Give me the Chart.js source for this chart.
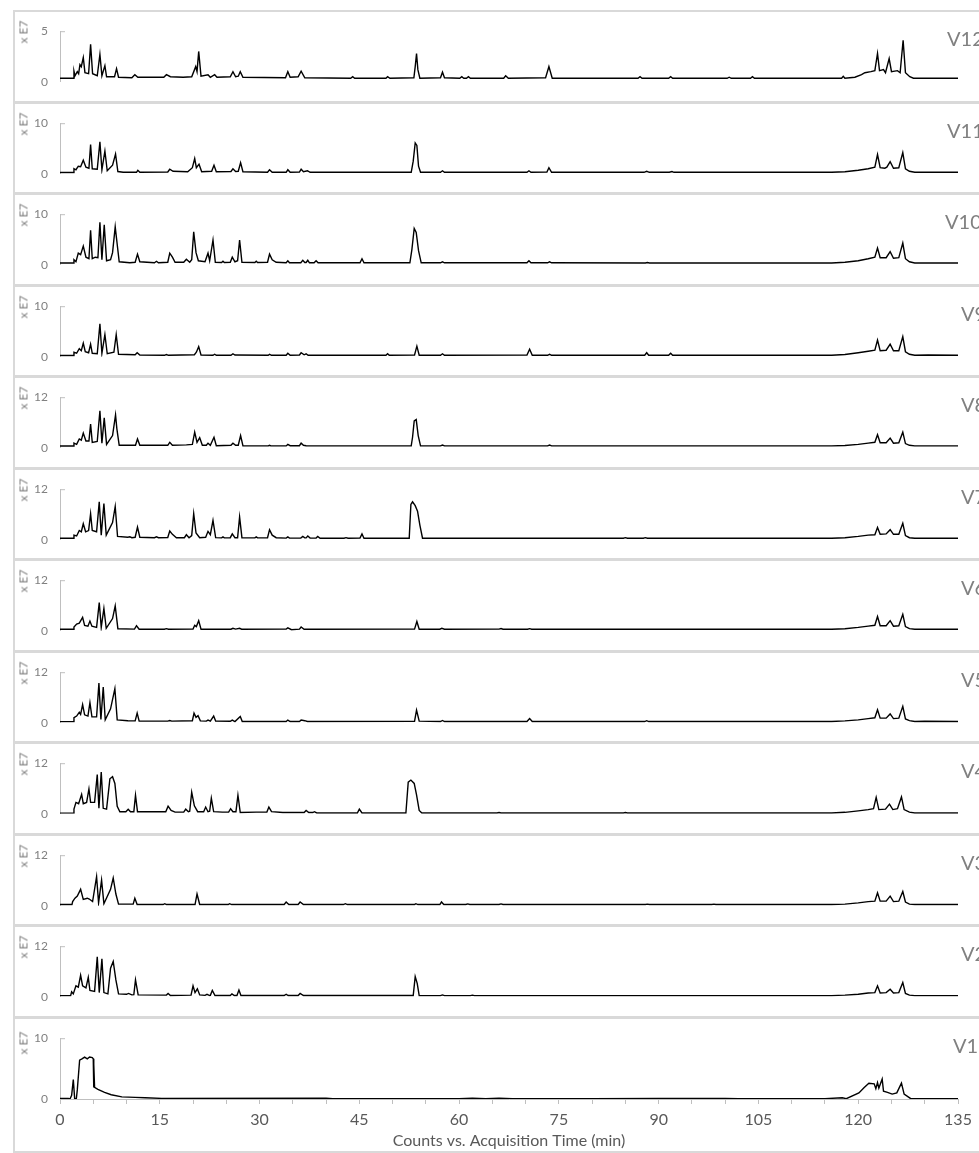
<!DOCTYPE html>
<html>
<head>
<meta charset="utf-8">
<script src="https://cdn.jsdelivr.net/npm/chart.js@4.4.1/dist/chart.umd.min.js"></script>
<style>
    body { margin: 0; background: #fff; width: 979px; height: 1153px; overflow: hidden; position: relative; font-family: Lato, "Open Sans", sans-serif; }
    #frame { position: absolute; left: 13px; top: 10px; width: 990px; height: 1139px; border: 2px solid #d9d9d9; }
    .sep { position: absolute; left: 13px; width: 990px; height: 3px; background: #d9d9d9; }
    canvas { position: absolute; left: 15px; }
    .unit { position: absolute; left: 23px; transform: translate(-50%, -50%) rotate(-90deg); font-size: 12px; color: #808080; white-space: nowrap; }
    .vname { position: absolute; font-size: 20px; color: #808080; transform: translateY(-50%); white-space: nowrap; }
</style>
</head>
<body>
<div id="frame"></div>
<script>
    // [time (min), counts (x E7)]
    const v12 = [[0,0.35],[2.0,0.35],[2.1,1.05],[2.25,0.6],[2.6,1.0],[2.8,0.8],[3.0,1.7],[3.2,1.5],[3.5,2.4],[3.75,0.9],[4.3,0.8],[4.6,3.7],[4.9,0.8],[5.6,0.6],[6.0,2.7],[6.3,0.6],[6.75,1.6],[7.0,0.5],[8.2,0.5],[8.5,1.3],[8.8,0.45],[10.8,0.4],[11.25,0.7],[11.7,0.45],[15.6,0.45],[16.0,0.7],[16.6,0.5],[18.5,0.45],[19.8,0.5],[20.4,1.5],[20.6,1.0],[20.85,3.0],[21.2,0.55],[22.25,0.7],[22.6,0.45],[23.25,0.7],[23.6,0.45],[25.6,0.5],[26.0,1.0],[26.4,0.5],[26.8,0.55],[27.1,1.0],[27.5,0.45],[33.9,0.4],[34.25,1.0],[34.6,0.45],[35.8,0.5],[36.25,1.05],[36.8,0.4],[43.7,0.35],[44,0.5],[44.3,0.35],[49.0,0.35],[49.25,0.5],[49.6,0.35],[53.2,0.4],[53.4,1.5],[53.6,2.8],[53.8,1.2],[54.1,0.35],[57.2,0.4],[57.5,0.95],[57.8,0.4],[60.1,0.35],[60.4,0.5],[60.7,0.35],[61.1,0.35],[61.4,0.5],[61.7,0.35],[66.7,0.35],[67.0,0.6],[67.4,0.35],[73.0,0.4],[73.5,1.5],[74.0,0.35],[86.9,0.35],[87.2,0.5],[87.5,0.35],[91.5,0.35],[91.8,0.5],[92.1,0.35],[100.3,0.35],[100.6,0.45],[100.9,0.35],[103.8,0.35],[104.1,0.5],[104.4,0.35],[117.5,0.35],[117.75,0.55],[118.0,0.35],[119.5,0.45],[120.5,0.7],[121,0.9],[121.9,1.0],[122.5,1.1],[122.9,2.8],[123.2,1.1],[123.8,1.2],[124.1,0.9],[124.65,2.3],[125.0,1.0],[125.9,1.1],[126.3,0.9],[126.75,4.1],[127.1,0.9],[127.75,0.5],[128.3,0.35],[135,0.35]];
    const v11 = [[0,0.27],[2.0,0.27],[2.1,1.0],[2.4,0.8],[2.75,1.5],[3.1,1.4],[3.5,2.7],[3.9,1.3],[4.35,1.1],[4.6,5.8],[4.85,1.0],[5.6,0.9],[6.0,6.3],[6.3,0.8],[6.75,4.5],[7.1,0.6],[7.9,1.7],[8.35,3.9],[8.7,0.45],[9.5,0.3],[11.5,0.3],[11.7,0.7],[12,0.3],[16.2,0.35],[16.5,0.9],[17,0.5],[19.2,0.4],[19.9,1.2],[20.25,3.0],[20.5,1.2],[20.9,1.9],[21.3,0.4],[22.8,0.5],[23.15,1.7],[23.5,0.4],[25.7,0.45],[26.0,1.0],[26.4,0.45],[26.8,0.5],[27.15,2.2],[27.5,0.4],[31.2,0.3],[31.5,0.8],[31.9,0.3],[34.0,0.3],[34.25,0.8],[34.6,0.3],[36.0,0.35],[36.25,0.9],[36.6,0.4],[37.2,0.6],[37.6,0.3],[52.8,0.3],[53.1,2.5],[53.4,6.1],[53.65,5.6],[53.9,1.5],[54.2,0.3],[57.2,0.3],[57.5,0.6],[57.8,0.3],[70.2,0.3],[70.5,0.6],[70.8,0.3],[73.2,0.35],[73.5,1.2],[73.9,0.3],[87.8,0.3],[88.2,0.5],[88.6,0.3],[91.6,0.3],[92,0.45],[92.3,0.3],[116,0.3],[118,0.4],[120,0.7],[121.5,1.0],[122.5,1.3],[122.9,3.8],[123.3,1.2],[124,1.1],[124.3,1.3],[124.8,2.4],[125.3,1.1],[126.1,1.2],[126.7,4.2],[127.1,1.0],[127.7,0.5],[128.5,0.3],[135,0.3]];
    const v10 = [[0,0.35],[2.0,0.35],[2.1,1.0],[2.4,0.6],[2.75,2.3],[3.1,2.0],[3.5,3.7],[3.9,1.5],[4.35,1.2],[4.6,6.8],[4.85,1.2],[5.3,1.5],[5.7,1.4],[6.0,8.4],[6.3,1.0],[6.65,7.9],[7.0,0.8],[7.6,1.0],[7.9,2.4],[8.3,7.5],[8.55,4.6],[8.9,0.6],[10.5,0.4],[11.3,0.5],[11.65,2.1],[12.0,0.6],[14.2,0.4],[14.5,0.7],[14.8,0.4],[16.2,0.5],[16.5,2.3],[16.9,1.5],[17.3,0.5],[18.6,0.5],[19.0,1.1],[19.5,0.5],[19.8,1.0],[20.1,6.5],[20.45,2.4],[20.8,0.8],[21.8,0.6],[22.25,2.3],[22.5,0.8],[23.0,4.9],[23.35,0.5],[24.3,0.45],[24.5,0.7],[24.7,0.45],[25.6,0.5],[25.9,1.5],[26.3,0.6],[26.7,0.8],[27.0,4.9],[27.35,0.5],[29.3,0.45],[29.5,0.7],[29.7,0.45],[31.2,0.5],[31.5,2.1],[31.9,1.0],[32.5,0.5],[34.0,0.4],[34.25,0.8],[34.5,0.4],[36.2,0.4],[36.5,0.9],[36.8,0.45],[37.0,0.45],[37.25,0.9],[37.5,0.4],[38.2,0.4],[38.5,0.8],[38.8,0.4],[45.1,0.4],[45.4,1.2],[45.7,0.4],[52.6,0.4],[52.9,3.0],[53.25,7.2],[53.55,6.4],[53.9,2.8],[54.3,0.4],[57.2,0.4],[57.5,0.6],[57.8,0.4],[70.2,0.4],[70.5,0.8],[70.8,0.4],[73.3,0.4],[73.6,0.6],[73.9,0.4],[88,0.35],[88.3,0.45],[88.6,0.35],[116,0.35],[118,0.5],[120,0.8],[121.5,1.2],[122.5,1.5],[122.9,3.3],[123.3,1.4],[124.2,1.4],[124.8,2.6],[125.3,1.3],[126.1,1.4],[126.7,4.3],[127.1,1.2],[127.7,0.6],[128.5,0.35],[135,0.35]];
    const v9 = [[0,0.27],[2.0,0.27],[2.1,0.9],[2.5,0.7],[2.9,1.6],[3.2,1.2],[3.5,2.7],[3.8,1.0],[4.3,0.8],[4.6,2.5],[4.85,0.7],[5.6,0.6],[6.0,6.5],[6.3,0.7],[6.75,4.4],[7.1,0.6],[8.1,0.9],[8.45,4.4],[8.8,0.5],[11.3,0.4],[11.6,0.8],[12.0,0.35],[15.7,0.3],[16.0,0.45],[16.3,0.3],[20.2,0.4],[20.5,0.9],[20.85,2.0],[21.2,0.35],[23.0,0.3],[23.25,0.5],[23.5,0.3],[25.7,0.3],[26.0,0.6],[26.3,0.35],[31.3,0.3],[31.5,0.5],[31.8,0.3],[34.0,0.3],[34.25,0.7],[34.6,0.3],[36.0,0.35],[36.25,0.8],[36.7,0.4],[37.0,0.6],[37.3,0.3],[49.0,0.3],[49.25,0.6],[49.5,0.3],[53.3,0.35],[53.65,2.1],[54.0,0.3],[57.2,0.3],[57.5,0.6],[57.8,0.3],[70.2,0.35],[70.6,1.5],[71.0,0.3],[73.3,0.3],[73.6,0.5],[73.9,0.3],[87.9,0.3],[88.2,0.8],[88.5,0.3],[91.5,0.3],[91.8,0.7],[92.1,0.3],[116,0.3],[118,0.45],[120,0.8],[121.5,1.1],[122.5,1.3],[122.9,3.3],[123.3,1.2],[124.2,1.3],[124.8,2.5],[125.3,1.2],[126.1,1.2],[126.7,4.0],[127.1,1.0],[127.7,0.5],[128.5,0.3],[130.5,0.35],[135,0.3]];
    const v8 = [[0,0.43],[2.0,0.43],[2.1,1.1],[2.5,0.8],[2.9,2.1],[3.2,1.8],[3.5,3.5],[3.9,1.6],[4.35,1.6],[4.6,5.6],[4.85,1.3],[5.6,1.5],[6.0,8.8],[6.3,1.1],[6.65,7.1],[7.0,0.8],[7.9,2.9],[8.35,7.8],[8.55,4.5],[8.9,0.6],[11.35,0.6],[11.65,2.1],[12.0,0.6],[16.2,0.6],[16.5,1.3],[16.9,0.6],[19.0,0.7],[19.9,0.8],[20.25,3.7],[20.6,1.3],[21.0,2.4],[21.4,0.6],[22.0,0.6],[22.25,1.1],[22.6,0.6],[23.15,2.5],[23.5,0.5],[25.7,0.6],[26.0,1.1],[26.4,0.6],[26.8,0.6],[27.15,2.9],[27.5,0.5],[31.3,0.45],[31.5,0.6],[31.7,0.45],[34.0,0.45],[34.25,0.8],[34.6,0.5],[36.0,0.5],[36.25,1.1],[36.6,0.6],[37.0,0.5],[52.8,0.45],[53.0,2.5],[53.25,6.4],[53.55,6.7],[53.85,2.9],[54.2,0.45],[57.2,0.45],[57.5,0.65],[57.8,0.45],[73.3,0.45],[73.6,0.65],[73.9,0.45],[116,0.45],[118,0.55],[120,0.8],[121.5,1.1],[122.5,1.3],[122.9,3.1],[123.3,1.2],[124.2,1.2],[124.8,2.3],[125.3,1.1],[126.1,1.2],[126.7,3.7],[127.1,1.0],[127.7,0.6],[128.5,0.45],[135,0.45]];
    const v7 = [[0,0.38],[2.0,0.38],[2.1,1.1],[2.5,0.9],[2.9,2.2],[3.2,1.9],[3.5,3.8],[3.85,1.9],[4.3,2.2],[4.6,6.2],[4.85,2.2],[5.5,1.9],[5.9,9.0],[6.2,1.1],[6.6,8.6],[6.95,1.1],[7.9,4.1],[8.3,7.9],[8.65,0.8],[10.2,0.6],[10.5,0.7],[10.8,0.5],[11.3,0.6],[11.65,3.0],[12.0,0.6],[14.2,0.5],[14.5,0.7],[14.8,0.5],[16.2,0.55],[16.5,2.1],[16.9,1.3],[17.5,0.5],[18.7,0.5],[19.0,1.2],[19.4,0.5],[19.8,1.0],[20.1,6.2],[20.45,1.6],[21.0,0.5],[21.9,0.6],[22.25,2.0],[22.6,1.2],[23.0,4.6],[23.4,0.5],[24.3,0.45],[24.5,0.7],[24.7,0.45],[25.6,0.5],[25.9,1.4],[26.3,0.5],[26.7,0.5],[27.0,5.4],[27.35,0.5],[29.3,0.45],[29.5,0.7],[29.7,0.45],[31.2,0.5],[31.5,2.4],[31.9,1.1],[32.5,0.5],[34.0,0.4],[34.25,0.7],[34.5,0.4],[36.2,0.4],[36.5,0.8],[36.8,0.45],[37.0,0.45],[37.25,0.9],[37.6,0.4],[38.5,0.4],[38.75,0.8],[39.1,0.38],[42.7,0.38],[43,0.5],[43.3,0.38],[45.1,0.4],[45.4,1.4],[45.7,0.38],[52.5,0.38],[52.75,8.4],[53.0,9.0],[53.4,8.1],[53.75,6.8],[54.1,3.5],[54.5,0.38],[84.7,0.38],[85,0.5],[85.3,0.38],[87.7,0.38],[88,0.5],[88.3,0.38],[116,0.38],[118,0.5],[120,0.8],[121.5,1.1],[122.5,1.2],[122.9,2.9],[123.3,1.3],[124.2,1.4],[124.8,2.4],[125.3,1.3],[126.1,1.3],[126.7,3.9],[127.1,1.0],[127.7,0.5],[128.5,0.38],[135,0.38]];
    const v6 = [[0,0.37],[2.0,0.37],[2.1,0.9],[2.5,1.6],[2.9,1.8],[3.4,3.2],[3.7,1.3],[4.2,1.1],[4.5,2.3],[4.8,1.1],[5.5,0.8],[5.9,6.7],[6.2,0.8],[6.6,5.3],[6.95,0.6],[7.9,2.9],[8.3,5.9],[8.7,0.5],[11.2,0.4],[11.5,1.2],[11.9,0.37],[15.7,0.37],[16.0,0.5],[16.3,0.37],[20.0,0.4],[20.25,1.3],[20.5,1.0],[20.85,2.4],[21.2,0.37],[25.7,0.37],[26.0,0.6],[26.4,0.4],[27.0,0.6],[27.3,0.37],[34.0,0.4],[34.25,0.7],[34.8,0.25],[36.0,0.4],[36.25,0.9],[36.7,0.37],[53.3,0.4],[53.65,2.2],[54.0,0.37],[57.1,0.37],[57.4,0.6],[57.8,0.37],[66,0.4],[66.3,0.55],[66.6,0.37],[70.3,0.37],[70.6,0.5],[70.9,0.37],[116,0.37],[118,0.5],[120,0.8],[121.5,1.1],[122.5,1.3],[122.9,3.4],[123.3,1.2],[124.2,1.2],[124.8,2.4],[125.3,1.1],[126.1,1.2],[126.7,3.9],[127.1,1.0],[127.7,0.5],[128.5,0.37],[135,0.37]];
    const v5 = [[0,0.27],[2.0,0.27],[2.1,1.2],[2.5,1.6],[2.9,2.5],[3.1,2.0],[3.4,4.3],[3.7,1.9],[4.2,1.6],[4.5,4.8],[4.8,1.4],[5.5,1.4],[5.85,9.4],[6.15,0.8],[6.5,8.5],[6.8,0.7],[7.6,3.3],[8.25,8.1],[8.6,0.7],[10.2,0.5],[11.3,0.45],[11.6,2.3],[11.9,0.4],[16.2,0.4],[16.5,0.55],[16.8,0.4],[19.9,0.5],[20.15,2.3],[20.45,1.3],[20.75,1.7],[21.1,0.45],[22.0,0.4],[22.25,0.65],[22.6,0.4],[23.1,1.6],[23.4,0.4],[25.6,0.35],[25.9,0.65],[26.3,0.3],[27.1,1.5],[27.4,0.3],[34.0,0.3],[34.25,0.65],[34.6,0.3],[36.0,0.3],[36.25,0.65],[36.8,0.5],[37.2,0.3],[53.3,0.35],[53.6,3.0],[54.0,0.4],[57.2,0.3],[57.5,0.55],[57.8,0.3],[70.2,0.3],[70.6,1.0],[71.0,0.3],[87.9,0.3],[88.2,0.5],[88.5,0.3],[116,0.3],[118,0.45],[120,0.7],[121.5,1.0],[122.5,1.2],[122.9,3.1],[123.3,1.1],[124.2,1.1],[124.8,2.1],[125.3,1.0],[126.1,1.1],[126.7,3.9],[127.1,0.9],[127.7,0.5],[128.5,0.3],[130,0.35],[135,0.3]];
    const v4 = [[0,0.16],[2.0,0.16],[2.1,1.1],[2.4,2.7],[2.8,2.4],[3.25,4.6],[3.5,2.4],[4.0,2.7],[4.35,5.9],[4.6,2.7],[5.2,2.7],[5.6,9.3],[5.85,1.3],[6.2,9.9],[6.5,1.3],[7.0,1.1],[7.5,8.3],[7.9,8.8],[8.25,7.2],[8.6,1.8],[9.0,0.5],[9.9,0.5],[10.25,1.1],[10.6,0.5],[11.1,0.5],[11.35,4.4],[11.65,0.5],[14.5,0.5],[15.9,0.5],[16.25,1.8],[16.7,0.8],[17.3,0.4],[18.6,0.4],[18.9,1.1],[19.3,0.5],[19.5,0.6],[19.8,5.1],[20.2,1.9],[20.7,0.5],[21.6,0.5],[21.9,1.6],[22.25,0.5],[22.5,0.6],[22.75,3.7],[23.1,0.5],[24.4,0.4],[25.35,0.4],[25.65,1.2],[26.0,0.5],[26.45,0.5],[26.75,4.4],[27.1,0.3],[29.5,0.4],[31.1,0.4],[31.4,1.6],[31.8,0.5],[33.5,0.3],[36.7,0.3],[37.0,0.8],[37.4,0.3],[38.0,0.3],[38.25,0.5],[38.6,0.2],[44.7,0.2],[45.0,1.1],[45.4,0.2],[52.0,0.2],[52.35,7.5],[52.75,8.0],[53.25,7.2],[53.6,4.5],[54.0,0.8],[54.4,0.2],[65.7,0.2],[66,0.3],[66.3,0.2],[84.7,0.2],[85,0.3],[85.3,0.2],[116,0.2],[118,0.35],[120,0.7],[121.5,1.0],[122.3,1.2],[122.7,3.9],[123.1,1.0],[124.1,1.1],[124.7,2.3],[125.2,1.0],[125.9,1.2],[126.5,4.0],[126.9,1.0],[127.7,0.4],[128.5,0.2],[135,0.2]];
    const v3 = [[0,0.3],[1.8,0.3],[1.9,1.0],[2.25,1.8],[2.6,2.3],[3.1,3.9],[3.5,1.5],[4.1,1.8],[4.4,1.6],[4.9,1.0],[5.5,6.9],[5.8,0.7],[6.25,6.1],[6.6,0.5],[7.6,3.9],[8.0,6.6],[8.4,2.8],[8.8,0.4],[11.0,0.4],[11.25,1.8],[11.6,0.3],[15.5,0.3],[15.75,0.5],[16.0,0.3],[20.3,0.3],[20.6,2.8],[21.0,0.3],[25.3,0.3],[25.5,0.5],[25.8,0.3],[33.7,0.3],[34.0,0.9],[34.4,0.3],[35.8,0.3],[36.1,0.9],[36.6,0.3],[42.6,0.3],[42.9,0.5],[43.2,0.3],[53.3,0.3],[53.5,0.5],[53.8,0.3],[57.1,0.3],[57.35,0.9],[57.7,0.3],[61,0.3],[61.3,0.45],[61.6,0.3],[66,0.3],[66.3,0.45],[66.6,0.3],[88,0.3],[88.3,0.4],[88.6,0.3],[98,0.3],[98.3,0.4],[98.6,0.3],[116,0.3],[118,0.4],[120,0.7],[121.5,1.0],[122.5,1.1],[122.9,3.1],[123.3,1.1],[124.2,1.1],[124.8,2.3],[125.3,1.0],[126.1,1.1],[126.7,3.4],[127.1,0.9],[127.7,0.4],[128.5,0.3],[135,0.3]];
    const v2 = [[0,0.27],[1.6,0.27],[1.75,1.2],[2.0,0.7],[2.4,2.6],[2.75,2.3],[3.1,5.1],[3.4,2.6],[3.9,2.1],[4.25,4.6],[4.5,1.5],[5.2,1.3],[5.6,9.5],[5.9,1.0],[6.3,9.0],[6.6,1.0],[7.2,0.7],[7.6,6.8],[8.0,8.4],[8.4,4.0],[8.8,0.7],[10.0,0.6],[10.3,0.8],[10.8,0.45],[11.1,0.5],[11.35,4.0],[11.75,0.45],[16.0,0.4],[16.25,0.8],[16.6,0.3],[19.7,0.4],[20.0,2.6],[20.3,1.0],[20.65,1.9],[21.0,0.45],[21.8,0.35],[22.1,0.6],[22.5,0.3],[22.6,0.35],[22.9,1.5],[23.3,0.3],[25.6,0.3],[25.85,0.7],[26.2,0.3],[26.6,0.3],[26.9,1.6],[27.2,0.3],[33.7,0.3],[34.0,0.6],[34.3,0.3],[35.8,0.3],[36.1,0.8],[36.6,0.3],[53.1,0.3],[53.4,4.8],[53.7,3.2],[54.0,0.3],[57.2,0.27],[57.5,0.45],[57.8,0.27],[61.7,0.27],[62,0.4],[62.3,0.27],[116,0.27],[118,0.4],[120,0.6],[121.5,0.9],[122.5,1.0],[122.9,2.6],[123.3,0.9],[124.2,1.0],[124.8,1.8],[125.3,0.9],[126.1,1.0],[126.7,3.4],[127.1,0.8],[127.7,0.4],[128.5,0.27],[135,0.27]];
    const v1 = [[0,0.1],[1.25,0.1],[1.5,0.0],[1.75,0.6],[2.0,3.2],[2.2,0.1],[2.45,0.0],[2.6,1.5],[2.95,6.4],[3.3,6.6],[3.7,6.9],[4.1,6.6],[4.45,6.9],[4.85,6.8],[5.0,6.6],[5.05,1.9],[5.1,5.7],[5.2,1.9],[5.7,1.6],[6.7,1.1],[7.7,0.7],[9.3,0.35],[11.3,0.27],[12.8,0.2],[15.3,0.1],[40,0.12],[41,0.05],[60,0.05],[62,0.12],[64,0.05],[66,0.12],[68,0.05],[80,0.05],[90,0.1],[100,0.08],[102,0.05],[115,0.05],[117.6,0.2],[118.2,0.05],[120.1,1.0],[120.9,1.9],[121.6,2.6],[122.4,2.5],[122.65,1.7],[122.9,2.7],[123.1,1.8],[123.3,2.4],[123.6,3.3],[123.8,1.3],[124.4,1.1],[125.1,0.8],[125.8,1.0],[126.5,2.6],[126.9,0.8],[127.9,0.05],[135,0.05]];

    const sampleNames = ['V12', 'V11', 'V10', 'V9', 'V8', 'V7', 'V6', 'V5', 'V4', 'V3', 'V2', 'V1'];
    const traces = [v12, v11, v10, v9, v8, v7, v6, v5, v4, v3, v2, v1];
    const yMax = [5, 10, 10, 10, 12, 12, 12, 12, 12, 12, 12, 10];
    const xMin = 0, xMax = 135, xStep = 5, xLabelStep = 15;
    const xTitle = 'Counts vs. Acquisition Time (min)';
    const unitLabel = 'x E7';

    // layout (page pixels)
    const panelTop = 10, panelH = 91.5, pageBottom = 1151;
    const nameLeft = [947, 947, 945, 961, 961, 961, 961, 961, 961, 961, 961, 953];
    const grey = '#808080', axisGrey = '#bfbfbf';

    Chart.defaults.font.family = 'Lato, "Open Sans", sans-serif';

    const topTick = {
        id: 'topTick',
        afterDraw(chart) {
            const a = chart.chartArea, c = chart.ctx;
            c.save();
            c.strokeStyle = axisGrey;
            c.lineWidth = 1;
            c.beginPath();
            c.moveTo(a.left, a.top + 0.5);
            c.lineTo(a.left + 5, a.top + 0.5);
            c.stroke();
            c.restore();
        }
    };

    sampleNames.forEach((name, i) => {
        const start = panelTop + panelH * i;
        const last = i === sampleNames.length - 1;

        if (i > 0) {
            const sep = document.createElement('div');
            sep.className = 'sep';
            sep.style.top = Math.round(start - 1) + 'px';
            document.body.appendChild(sep);
        }

        const top = Math.round(start + 2);
        const h = last ? pageBottom - top : 89;
        const cv = document.createElement('canvas');
        cv.width = 964;
        cv.height = h;
        cv.style.top = top + 'px';
        document.body.appendChild(cv);

        const unit = document.createElement('div');
        unit.className = 'unit';
        unit.textContent = unitLabel;
        unit.style.top = Math.round(start + (last ? 26 : 22)) + 'px';
        document.body.appendChild(unit);

        const vn = document.createElement('div');
        vn.className = 'vname';
        vn.textContent = name;
        vn.style.left = nameLeft[i] + 'px';
        vn.style.top = Math.round(start + 28) + 'px';
        document.body.appendChild(vn);

        const xAxis = {
            type: 'linear',
            min: xMin,
            max: xMax,
            display: last
        };
        if (last) {
            Object.assign(xAxis, {
                afterFit: s => { s.height = pageBottom - Math.round(start + 82); },
                ticks: {
                    stepSize: xStep,
                    autoSkip: false,
                    maxRotation: 0,
                    padding: 6,
                    color: '#595959',
                    font: {size: 16},
                    callback: v => (v % xLabelStep === 0 ? v : '')
                },
                grid: {drawOnChartArea: false, tickLength: 5, color: axisGrey},
                border: {color: axisGrey},
                title: {display: true, text: xTitle, color: '#595959', font: {size: 16}, padding: {top: 0, bottom: 1}}
            });
        }

        new Chart(cv, {
            type: 'line',
            data: {
                datasets: [{
                    data: traces[i].map(p => ({x: p[0], y: p[1]})),
                    borderColor: '#000',
                    borderWidth: 1.4,
                    pointRadius: 0,
                    tension: 0,
                    fill: false
                }]
            },
            options: {
                responsive: false,
                animation: false,
                events: [],
                layout: {padding: {top: (start + 8) - top, bottom: last ? 0 : top + h - (start + 82), left: 0, right: 21}},
                plugins: {legend: {display: false}, tooltip: {enabled: false}},
                scales: {
                    x: xAxis,
                    y: {
                        min: 0,
                        max: yMax[i],
                        afterBuildTicks: s => { s.ticks = [{value: 0}, {value: yMax[i]}]; },
                        afterFit: s => { s.width = 45; },
                        ticks: {padding: 12, color: grey, font: {size: 12}},
                        grid: {drawOnChartArea: false, drawTicks: false},
                        border: {color: axisGrey}
                    }
                }
            },
            plugins: [topTick]
        });
    });
</script>
</body>
</html>
